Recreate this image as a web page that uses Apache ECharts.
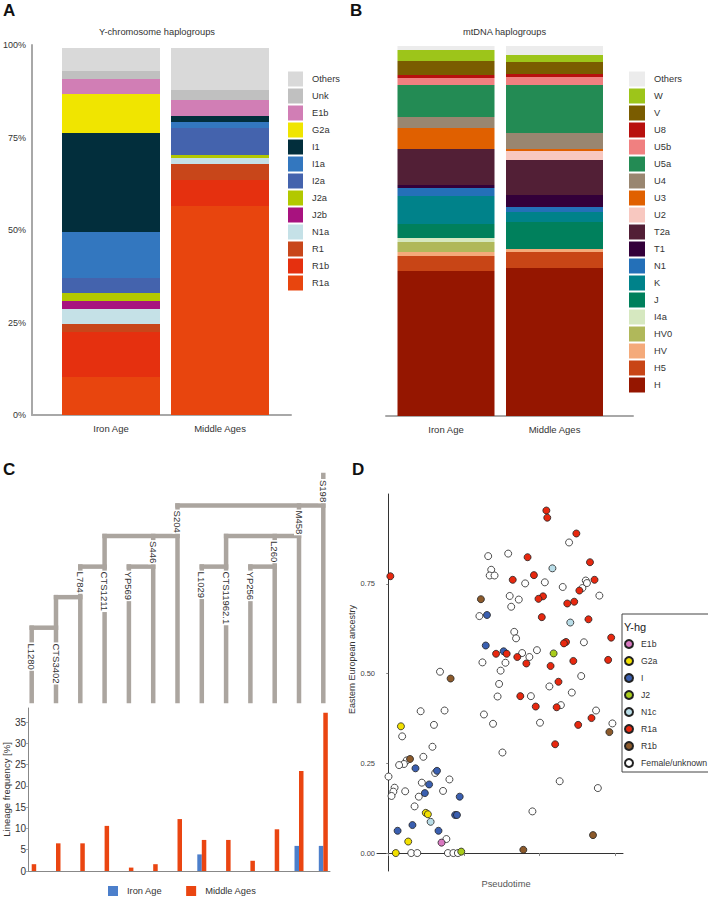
<!DOCTYPE html>
<html><head><meta charset="utf-8">
<script src="https://cdn.jsdelivr.net/npm/echarts@6/dist/echarts.min.js"></script>
<style>html,body{margin:0;padding:0;background:#fff}#c{width:708px;height:897px}</style>
</head><body><div id="c"></div>
<script>
const FONT = '"Liberation Sans", Arial, Helvetica, sans-serif';
// ---------- Panel A: Y-chromosome haplogroups (bottom to top) ----------
const periods = ['Iron Age', 'Middle Ages'];
const yHaplo = ['R1a','R1b','R1','N1a','J2b','J2a','I2a','I1a','I1','G2a','E1b','Unk','Others'];
const yIronAge = [10.27,12.16,2.16,4.05,2.16,2.16,4.05,12.43,26.76,10.54,4.05,2.16,6.22];
const yMiddleAges = [56.49,7.03,4.32,1.62,0,0.81,7.30,1.62,1.62,0,4.32,2.70,11.35];
const yColors = ['#e8450e','#e5300f','#c8461a','#c5e1e7','#a8127f','#b2c800','#4463ad','#3377bf','#022e3c','#f0e500','#d17eb5','#c0c0c0','#d9d9d9'];
const pctTicks = ['0%','25%','50%','75%','100%'];
// ---------- Panel B: mtDNA haplogroups (bottom to top) ----------
const mtHaplo = ['H','H5','HV','HV0','I4a','J','K','N1','T1','T2a','U2','U3','U4','U5a','U5b','U8','V','W','Others'];
const mtIronAge = [39.19,4.05,1.08,2.70,1.08,3.78,7.57,2.16,0.81,9.73,0,5.68,2.97,8.65,1.89,0.81,3.78,2.97,1.08];
const mtMiddleAges = [40.00,4.32,0.81,0,0,7.30,2.70,1.35,3.24,9.46,2.43,0.54,4.32,12.97,2.16,0.81,3.24,1.89,2.43];
const mtColors = ['#951600','#c84516','#f4aa7a','#b0b85a','#d6e8c0','#00805c','#00828a','#2470b8','#33003a','#521f36','#f8c8c0','#e06000','#998670','#238b54','#f08080','#b8100e','#7a5c00','#9dc51a','#ececec'];
// ---------- Panel C: lineage tree + frequencies ----------
const lineages = ['L1280','CTS3402','L784','CTS1211','YP569','S446','S204','L1029','CTS11962.1','YP256','L260','M458','S198'];
const freqIronAge = [0,0,0,0,0,0,0,3.9,0,0,0,5.9,5.9];
const freqMiddleAges = [1.6,6.5,6.5,10.6,0.8,1.6,12.2,7.3,7.3,2.4,9.8,23.5,37.2];
const freqTicks = [0,5,10,15,20,25,30,35];
const leafTop = [1,2,3,4,3,4,5,3,4,3,4,5,6];          // tree level where each lineage line ends
const labelLevel = [0.65,0.65,3,3,3,4,5,3,3,3,4,5,6];  // tree level where each label starts
const treeJoins = [[0,1,1],[1,2,2],[2,3,3],[4,5,3],[3,6,4],[7,8,3],[9,10,3],[8,11,4],[6,12,5]]; // [from, to, level]
const TREE_BASE = -1.4;
// ---------- Panel D: Y-hg vs pseudotime ----------
const hgNames = ['E1b','G2a','I','J2','N1c','R1a','R1b','Female/unknown'];
const hgColors = ['#d878c0','#f2e000','#3a5fb0','#a9cc1b','#b9dde8','#e8280f','#8c5a2b','#ffffff'];
const dE1b = [[0.176,0.029]];
const dG2a = [[0.042,0.353],[0.124,0.112],[0.131,0.108],[0.066,0.032],[0.025,0.000]];
const dI = [[0.326,0.663],[0.322,0.578],[0.381,0.562],[0.090,0.236],[0.161,0.229],[0.135,0.191],[0.121,0.167],[0.236,0.157],[0.080,0.078],[0.031,0.062],[0.166,0.062],[0.221,0.106],[0.227,0.106]];
const dJ2 = [[0.546,0.556],[0.241,0.004]];
const dN1c = [[0.542,0.793],[0.601,0.642],[0.140,0.087]];
const dR1a = [[0.007,0.771],[0.522,0.954],[0.525,0.934],[0.621,0.890],[0.460,0.824],[0.666,0.810],[0.411,0.761],[0.481,0.774],[0.681,0.761],[0.631,0.731],[0.511,0.715],[0.496,0.708],[0.614,0.700],[0.591,0.695],[0.507,0.657],[0.661,0.651],[0.736,0.600],[0.587,0.588],[0.580,0.584],[0.356,0.555],[0.391,0.555],[0.426,0.546],[0.456,0.528],[0.536,0.521],[0.611,0.535],[0.726,0.538],[0.562,0.477],[0.436,0.437],[0.487,0.408],[0.556,0.406],[0.671,0.376],[0.627,0.357],[0.551,0.303]];
const dR1b = [[0.306,0.707],[0.206,0.486],[0.730,0.337],[0.072,0.262],[0.676,0.050],[0.446,0.009]];
const dFemale = [[0.330,0.827],[0.396,0.834],[0.340,0.789],[0.335,0.773],[0.351,0.773],[0.597,0.865],[0.452,0.751],[0.517,0.754],[0.576,0.741],[0.641,0.738],[0.652,0.759],[0.656,0.752],[0.697,0.717],[0.401,0.716],[0.431,0.706],[0.406,0.686],[0.301,0.660],[0.416,0.616],[0.422,0.598],[0.646,0.587],[0.491,0.565],[0.442,0.557],[0.466,0.546],[0.311,0.531],[0.387,0.530],[0.371,0.508],[0.171,0.505],[0.637,0.493],[0.366,0.471],[0.532,0.464],
  [0.361,0.436],[0.471,0.437],[0.570,0.412],[0.606,0.447],[0.107,0.395],[0.186,0.397],[0.316,0.386],[0.346,0.360],[0.501,0.363],[0.686,0.397],[0.740,0.361],[0.151,0.357],[0.046,0.325],[0.146,0.296],[0.377,0.280],[0.116,0.268],[0.061,0.258],[0.052,0.248],[0.036,0.245],[0.155,0.223],[0.001,0.213],[0.202,0.205],[0.111,0.196],[0.566,0.200],[0.021,0.182],[0.017,0.171],[0.011,0.159],[0.056,0.172],[0.181,0.173],[0.101,0.157],[0.692,0.181],[0.087,0.130],[0.476,0.116],[0.192,0.039],[0.076,0.000],[0.096,0.000],[0.197,0.000],[0.215,0.000],[0.230,0.000]];
const hgData = [dE1b,dG2a,dI,dJ2,dN1c,dR1a,dR1b,dFemale];
const ancestryTicks = [0,0.25,0.5,0.75];
const pseudotimeTicks = [0,0.25,0.5,0.75];

// ---------- build ----------
const chart = echarts.init(document.getElementById('c'), null, {renderer:'svg'});
const txt = (size, color) => ({fontFamily: FONT, fontSize: size, color: color || '#333'});
const hiddenX = (gi, extra) => Object.assign({gridIndex: gi, show: false}, extra || {});
const treeSegs = [];
lineages.forEach((n, i) => treeSegs.push([i, TREE_BASE, i, leafTop[i]]));
treeJoins.forEach(j => treeSegs.push([j[0], j[2], j[1], j[2]]));

const series = [];
yHaplo.forEach((h, i) => series.push({
  type:'bar', name:h, stack:'A', xAxisIndex:1, yAxisIndex:1, barWidth:98,
  itemStyle:{color:yColors[i]}, data:[yIronAge[i], yMiddleAges[i]], silent:true
}));
mtHaplo.forEach((h, i) => series.push({
  type:'bar', name:'mt:'+h, stack:'B', xAxisIndex:3, yAxisIndex:3, barWidth:97,
  itemStyle:{color:mtColors[i]}, data:[mtIronAge[i], mtMiddleAges[i]], silent:true
}));
series.push({
  type:'custom', xAxisIndex:4, yAxisIndex:4, silent:true,
  dimensions:['x1','y1','x2','y2'], encode:{x:[0,2], y:[1,3]},
  data: treeSegs,
  renderItem:(p, api) => {
    const a = api.coord([api.value(0), api.value(1)]);
    const b = api.coord([api.value(2), api.value(3)]);
    return {type:'line', shape:{x1:a[0], y1:a[1], x2:b[0], y2:b[1]},
      style:{stroke:'#aba59f', lineWidth:4.5, lineCap:'square'}};
  }
});
series.push({
  type:'custom', xAxisIndex:4, yAxisIndex:4, silent:true, z:5,
  data: lineages.map((n, i) => [i, labelLevel[i]]),
  renderItem:(p, api) => {
    const a = api.coord([api.value(0), api.value(1)]);
    return {type:'text', x:a[0], y:a[1] + 4, rotation:-Math.PI/2,
      style:{text:lineages[p.dataIndex], font:'9.5px ' + FONT, fill:'#333',
        align:'left', verticalAlign:'middle', backgroundColor:'#fff', padding:[0,1]}};
  }
});
series.push({type:'bar', name:'Iron Age', xAxisIndex:6, yAxisIndex:6, barWidth:4.5, barGap:'0%',
  itemStyle:{color:'#4c7fcb'}, data:freqIronAge, silent:true});
series.push({type:'bar', name:'Middle Ages', xAxisIndex:6, yAxisIndex:6, barWidth:4.5, barGap:'0%',
  itemStyle:{color:'#ea4511'}, data:freqMiddleAges, silent:true});
[7,0,1,2,3,4,5,6].forEach(i => series.push({
  type:'scatter', name:'D:'+hgNames[i], xAxisIndex:7, yAxisIndex:7, symbolSize:7,
  itemStyle:{color:hgColors[i], borderColor:'#222', borderWidth:0.8, opacity:1},
  data:hgData[i], silent:true
}));

const option = {
  animation:false,
  backgroundColor:'#fff',
  textStyle:{fontFamily:FONT},
  grid:[
    {left:32, top:45, width:259, height:370},
    {left:56.5, top:45, width:218, height:370},
    {left:386, top:46, width:247, height:370},
    {left:391.75, top:46, width:217, height:370},
    {left:19.55, top:475, width:315.9, height:226},
    {left:26, top:708, width:304, height:163},
    {left:19.55, top:708, width:315.9, height:163},
    {left:377, top:494, width:246, height:377}
  ],
  xAxis:[
    {gridIndex:0, type:'value', min:0, max:1, axisLine:{show:true, lineStyle:{color:'#a8a8a8', width:2}}, axisTick:{show:false}, axisLabel:{show:false}, splitLine:{show:false}},
    {gridIndex:1, type:'category', data:periods, axisLine:{show:false}, axisTick:{show:false}, axisLabel:Object.assign({margin:8}, txt(9.5))},
    {gridIndex:2, type:'value', min:0, max:1, axisLine:{show:true, lineStyle:{color:'#a8a8a8', width:2}}, axisTick:{show:false}, axisLabel:{show:false}, splitLine:{show:false}},
    {gridIndex:3, type:'category', data:periods, axisLine:{show:false}, axisTick:{show:false}, axisLabel:Object.assign({margin:8}, txt(9.5))},
    hiddenX(4, {type:'value', min:-0.5, max:12.5}),
    {gridIndex:5, type:'value', min:0, max:1, axisLine:{show:true, lineStyle:{color:'#888', width:1}}, axisTick:{show:false}, axisLabel:{show:false}, splitLine:{show:false}},
    hiddenX(6, {type:'category', data:lineages}),
    {gridIndex:7, type:'value', min:-0.037, max:0.775, name:'Pseudotime', nameLocation:'middle', nameGap:8,
      nameTextStyle:Object.assign({padding:[0,0,0,12]}, txt(9.3, '#555')),
      axisLine:{show:true, lineStyle:{color:'#333', width:1}},
      axisTick:{show:true, length:3, customValues:pseudotimeTicks, lineStyle:{color:'#888'}},
      axisLabel:{show:false}, splitLine:{show:false}}
  ],
  yAxis:[
    {gridIndex:0, type:'value', min:0, max:100, interval:25, axisLine:{show:true, lineStyle:{color:'#a8a8a8', width:2}}, axisTick:{show:false}, splitLine:{show:false},
      axisLabel:Object.assign({margin:6, formatter:v => pctTicks[Math.round(v/25)]}, txt(9))},
    {gridIndex:1, type:'value', min:0, max:100, show:false},
    {gridIndex:2, type:'value', min:0, max:100, show:false},
    {gridIndex:3, type:'value', min:0, max:100, show:false},
    {gridIndex:4, type:'value', min:TREE_BASE, max:6, show:false},
    {gridIndex:5, type:'value', min:0, max:38.3, name:'Lineage frequency [%]', nameLocation:'middle', nameGap:15, nameTextStyle:txt(9.5),
      axisLine:{show:true, lineStyle:{color:'#888', width:1}},
      axisTick:{show:true, length:2, customValues:freqTicks, lineStyle:{color:'#aaa'}},
      axisLabel:Object.assign({margin:2, customValues:freqTicks}, txt(10)), splitLine:{show:false}},
    {gridIndex:6, type:'value', min:0, max:38.3, show:false},
    {gridIndex:7, type:'value', min:-0.05, max:1.0, name:'Eastern European ancestry', nameLocation:'middle', nameGap:13,
      nameTextStyle:Object.assign({padding:[0,0,0,46]}, txt(9)),
      axisLine:{show:true, lineStyle:{color:'#333', width:1}},
      axisTick:{show:true, length:2, customValues:ancestryTicks, lineStyle:{color:'#888'}},
      axisLabel:Object.assign({margin:2, customValues:ancestryTicks, formatter:v => v.toFixed(2)}, txt(7.5, '#444')), splitLine:{show:false}}
  ],
  legend:[
    {left:288, top:71.5, orient:'vertical', padding:0, itemWidth:15, itemHeight:15, itemGap:2, icon:'rect',
      data:yHaplo.slice().reverse(), textStyle:Object.assign({padding:[0,0,0,4], lineHeight:15}, txt(9.3)), selectedMode:false},
    {left:629, top:71.5, orient:'vertical', padding:0, itemWidth:16, itemHeight:15, itemGap:2, icon:'rect',
      data:mtHaplo.slice().reverse().map(h => 'mt:'+h), formatter:n => n.replace('mt:', ''),
      textStyle:Object.assign({padding:[0,0,0,4], lineHeight:15}, txt(9.3)), selectedMode:false},
    {left:108, top:886, orient:'horizontal', padding:0, itemWidth:10, itemHeight:10, itemGap:24, icon:'rect',
      data:['Iron Age','Middle Ages'], textStyle:Object.assign({padding:[0,0,0,4]}, txt(9.3)), selectedMode:false},
    {left:622, top:614, orient:'vertical', padding:[24,40,3,2], itemWidth:8, itemHeight:8, itemGap:5, icon:'circle',
      borderColor:'#444', borderWidth:1,
      data:hgNames.map(h => 'D:'+h), formatter:n => n.replace('D:', ''),
      textStyle:Object.assign({padding:[0,0,0,3], lineHeight:12}, txt(8.7)), selectedMode:false}
  ],
  graphic:[
    {type:'text', x:3, y:2, style:{text:'A', font:'bold 17px ' + FONT, fill:'#111'}},
    {type:'text', x:350, y:2, style:{text:'B', font:'bold 17px ' + FONT, fill:'#111'}},
    {type:'text', x:3, y:461, style:{text:'C', font:'bold 17px ' + FONT, fill:'#111'}},
    {type:'text', x:352, y:461, style:{text:'D', font:'bold 17px ' + FONT, fill:'#111'}},
    {type:'text', x:157, y:32, style:{text:'Y-chromosome haplogroups', font:'9.3px ' + FONT, fill:'#333', align:'center', verticalAlign:'middle'}},
    {type:'text', x:504.5, y:32, style:{text:'mtDNA haplogroups', font:'9.3px ' + FONT, fill:'#333', align:'center', verticalAlign:'middle'}},
    {type:'text', x:624, y:627, style:{text:'Y-hg', font:'11px ' + FONT, fill:'#222', verticalAlign:'middle'}}
  ],
  series:series
};
chart.setOption(option);
</script></body></html>
